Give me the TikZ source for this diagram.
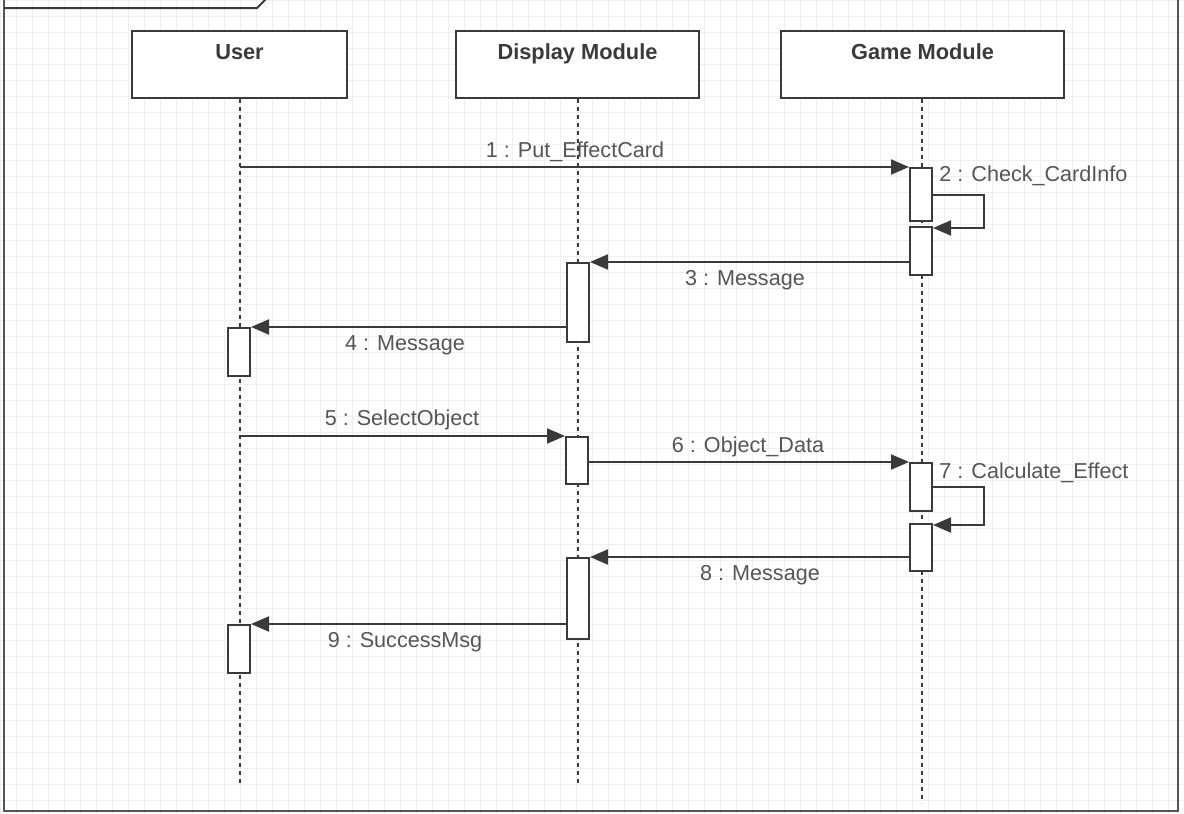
\documentclass[tikz,border=0pt]{standalone}
\usepackage{fontspec}
\setmainfont{Liberation Sans}
\usetikzlibrary{arrows.meta,calc}
\definecolor{ink}{HTML}{3A3A3A}
\definecolor{txt}{HTML}{555555}
\definecolor{gridc}{HTML}{EFEFEF}
\tikzset{
  head/.style={draw=ink, line width=1pt, fill=white, minimum width=#1, minimum height=33.5pt,
               inner sep=0pt, anchor=north west},
  headtxt/.style={font=\fontsize{10.9}{12}\selectfont\bfseries, text=ink, anchor=base, inner sep=0pt},
  act/.style={draw=ink, line width=1pt, fill=white, minimum width=11pt, minimum height=#1,
              inner sep=0pt, anchor=north},
  life/.style={draw=ink, line width=0.9pt, dash pattern=on 2pt off 2pt},
  msg/.style={draw=ink, line width=1pt, -{Triangle[length=9pt,width=7.5pt]}},
  lbl/.style={font=\fontsize{10.8}{12}\selectfont, text=txt, inner sep=0pt},
}
\begin{document}
\begin{tikzpicture}[x=0.5pt,y=-0.5pt]
\useasboundingbox (0,0) rectangle (1184,814);
\begin{scope}
\clip (0,0) rectangle (1184,814);
% background grid
\fill[white] (0,0) rectangle (1184,814);
\draw[gridc, line width=0.4pt] (0,0) grid[step=8pt] (1184,814);
% diagram frame with its name tab
\draw[txt, line width=1pt] (4,-20) rectangle (1178,811);
\draw[ink, line width=1pt] (4,8) -- (257,8) -- (268,-3);
\end{scope}

% lifeline heads
\node[head=107.5pt] (user) at (131,30) {};
\node[head=121.5pt] (disp) at (455,30) {};
\node[head=141.5pt] (game) at (780,30) {};
\node[headtxt] (userT) at ($(user.north)+(0,29)$) {User};
\node[headtxt] (dispT) at ($(disp.north)+(0,29)$) {Display Module};
\node[headtxt] (gameT) at ($(game.north)+(0,29)$) {Game Module};

% lifelines
\coordinate (userEnd) at (240,783);
\coordinate (dispEnd) at (578,783);
\coordinate (gameEnd) at (922,803);
\draw[life] (user.south -| userEnd) -- (userEnd);
\draw[life] (disp.south -| dispEnd) -- (dispEnd);
\draw[life] (game.south -| gameEnd) -- (gameEnd);

% activation bars
\node[act=26.5pt] (G1) at (921,167) {};
\node[act=24pt]   (G2) at (921,226) {};
\node[act=39.5pt] (D1) at (578,262) {};
\node[act=24pt]   (U1) at (239,327) {};
\node[act=23.5pt] (D2) at (577,436) {};
\node[act=24pt]   (G3) at (921,462) {};
\node[act=23.5pt] (G4) at (921,523) {};
\node[act=40.5pt] (D3) at (578,557) {};
\node[act=24pt]   (U2) at (239,624) {};

% messages
\coordinate (m1s) at (240,167);
\draw[msg] (m1s) -- (G1.north west);
\draw[msg] (G1.east) -- ++(51,0) |- ($(G2.north east)+(0,2)$);
\draw[msg] (D1.north east -| G2.west) -- (D1.north east);
\draw[msg] (U1.north east -| D1.west) -- (U1.north east);
\coordinate (m5s) at (240,436);
\draw[msg] (m5s) -- (D2.north west);
\draw[msg] (G3.north west -| D2.east) -- (G3.north west);
\draw[msg] (G3.east) -- ++(51,0) |- ($(G4.north east)+(0,2)$);
\draw[msg] (D3.north east -| G4.west) -- (D3.north east);
\draw[msg] (U2.north east -| D3.west) -- (U2.north east);

% message labels
\node[lbl] (l1) at (575,152) {1 : Put\_EffectCard};
\node[lbl, anchor=west] (l2) at (939,176) {2 : Check\_CardInfo};
\node[lbl] (l3) at (745,280) {3 : Message};
\node[lbl] (l4) at (405,345) {4 : Message};
\node[lbl] (l5) at (402,420) {5 : SelectObject};
\node[lbl] (l6) at (748,447) {6 : Object\_Data};
\node[lbl, anchor=west] (l7) at (939,473) {7 : Calculate\_Effect};
\node[lbl] (l8) at (760,575) {8 : Message};
\node[lbl] (l9) at (405,642) {9 : SuccessMsg};
\end{tikzpicture}
\end{document}
